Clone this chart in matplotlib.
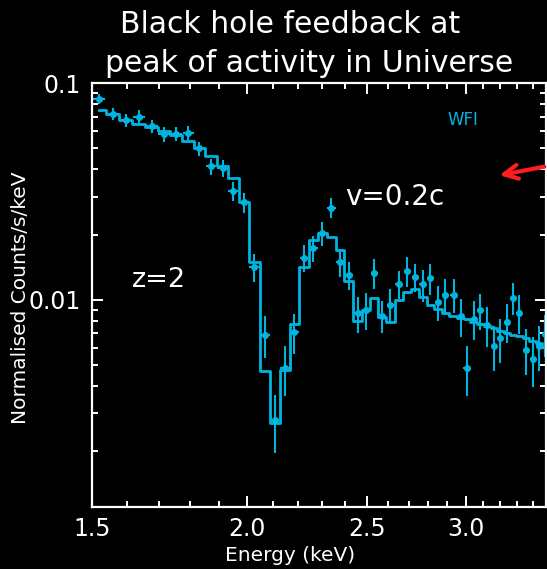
import numpy as np
import matplotlib
matplotlib.use('Agg')
import matplotlib.pyplot as plt
from matplotlib.ticker import FixedLocator, NullFormatter

plt.rcParams['font.family'] = ['DejaVu Sans']

# spectrum data (energy in keV, normalised counts/s/keV)
energy = [1.520, 1.559, 1.597, 1.637, 1.676, 1.714, 1.753, 1.793, 1.830, 1.871,
          1.911, 1.950, 1.989, 2.027, 2.068, 2.106, 2.146, 2.183, 2.223, 2.262,
          2.299, 2.339, 2.377, 2.415, 2.456, 2.494, 2.533, 2.570, 2.610, 2.650,
          2.692, 2.732, 2.772, 2.811, 2.851, 2.890, 2.934, 2.974, 3.006, 3.046,
          3.084, 3.123, 3.162, 3.200, 3.239, 3.279, 3.315, 3.357, 3.398, 3.436,
          3.476]
counts = [0.0850, 0.0725, 0.0676, 0.0702, 0.0632, 0.0582, 0.0584, 0.0590, 0.0500, 0.0413,
          0.0405, 0.0317, 0.0282, 0.01415, 0.0069, 0.0028, 0.00485, 0.00714, 0.01566, 0.0174,
          0.0203, 0.0267, 0.0149, 0.01304, 0.00868, 0.0090, 0.01336, 0.00844, 0.00948, 0.0118,
          0.01365, 0.0128, 0.0118, 0.01259, 0.00976, 0.01054, 0.01054, 0.00844, 0.00486, 0.00818,
          0.00896, 0.00767, 0.00614, 0.00666, 0.00794, 0.01025, 0.00874, 0.00589, 0.00536, 0.00614,
          0.00695]
# relative 1-sigma errors
rel_err = [0.054, 0.066, 0.066, 0.071, 0.069, 0.077, 0.077, 0.071, 0.077, 0.085,
           0.089, 0.100, 0.108, 0.148, 0.220, 0.300, 0.260, 0.210, 0.140, 0.136,
           0.124, 0.106, 0.148, 0.148, 0.194, 0.194, 0.160, 0.170, 0.180, 0.148,
           0.160, 0.148, 0.169, 0.160, 0.185, 0.185, 0.179, 0.198, 0.260, 0.204,
           0.190, 0.210, 0.236, 0.230, 0.200, 0.170, 0.200, 0.240, 0.260, 0.236,
           0.220]
model = [0.0751, 0.0725, 0.0678, 0.0652, 0.0629, 0.0601, 0.0579, 0.0540, 0.0502, 0.0462,
         0.0417, 0.0366, 0.0282, 0.0150, 0.00468, 0.00270, 0.00476, 0.00775, 0.01424, 0.0189,
         0.0203, 0.01945, 0.0170, 0.01223, 0.0080, 0.0090, 0.01025, 0.00835, 0.00794, 0.0100,
         0.01089, 0.01124, 0.01036, 0.00948, 0.00909, 0.00874, 0.00844, 0.00824, 0.00815, 0.00794,
         0.00775, 0.00759, 0.00741, 0.00722, 0.00705, 0.0069, 0.00678, 0.00666, 0.00649, 0.00632,
         0.00607]

x_ticks = [1.5, 2.0, 2.5, 3.0]
x_labels = ['1.5', '2.0', '2.5', '3.0']
x_minor = [1.6, 1.7, 1.8, 1.9, 2.1, 2.2, 2.3, 2.4, 2.6, 2.7, 2.8, 2.9, 3.1, 3.2, 3.3, 3.4]
y_ticks = [0.01, 0.1]
y_labels = ['0.01', '0.1']

cyan = '#00B4E0'
fig = plt.figure(figsize=(5.47, 5.69), dpi=100, facecolor='black')
ax = fig.add_axes([0.1682, 0.1081, 0.8291, 0.7455])
ax.set_facecolor('black')

energy = np.array(energy)
counts = np.array(counts)
ax.step(energy, model, where='mid', color=cyan, lw=2)
ax.errorbar(energy, counts, yerr=counts * np.array(rel_err), xerr=0.018,
            fmt='o', ms=4, color=cyan, ecolor=cyan, elinewidth=1.5, capsize=0)

ax.set_xscale('log')
ax.set_yscale('log')
ax.set_xlim(1.5, 3.48)
ax.set_ylim(0.0011, 0.1)

ax.xaxis.set_major_locator(FixedLocator(x_ticks))
ax.set_xticklabels(x_labels)
ax.xaxis.set_minor_locator(FixedLocator(x_minor))
ax.xaxis.set_minor_formatter(NullFormatter())
ax.yaxis.set_major_locator(FixedLocator(y_ticks))
ax.set_yticklabels(y_labels)
ax.yaxis.set_minor_formatter(NullFormatter())

for s in ax.spines.values():
    s.set_color('white')
    s.set_linewidth(1.6)
ax.tick_params(which='both', direction='in', colors='white', top=True, right=True,
               labelsize=17, width=1.4)
ax.tick_params(axis='x', which='major', length=8, pad=7)
ax.tick_params(axis='y', which='major', length=8, pad=8)
ax.tick_params(which='minor', length=4)

fig.text(0.530, 0.942, 'Black hole feedback at', color='white', fontsize=21.5,
         ha='center', va='baseline')
fig.text(0.565, 0.8735, 'peak of activity in Universe', color='white', fontsize=21.5,
         ha='center', va='baseline')
fig.text(0.722, 0.640, 'v=0.2c', color='white', fontsize=20, ha='center', va='baseline')
fig.text(0.291, 0.4956, 'z=2', color='white', fontsize=19.5, ha='center', va='baseline')
fig.text(0.846, 0.780, 'WFI', color=cyan, fontsize=12, ha='center', va='baseline')
fig.text(0.037, 0.477, 'Normalised Counts/s/keV', color='white', fontsize=14.5,
         rotation=90, ha='center', va='center')
fig.text(0.531, 0.023, 'Energy (keV)', color='white', fontsize=14.5, ha='center', va='center')

ax.annotate('', xy=(0.908, 0.691), xytext=(1.0, 0.708), xycoords='figure fraction',
            arrowprops=dict(arrowstyle='->', color='#FF1E1E', lw=3, mutation_scale=25))

fig.savefig('out.png', dpi=100, facecolor='black')
